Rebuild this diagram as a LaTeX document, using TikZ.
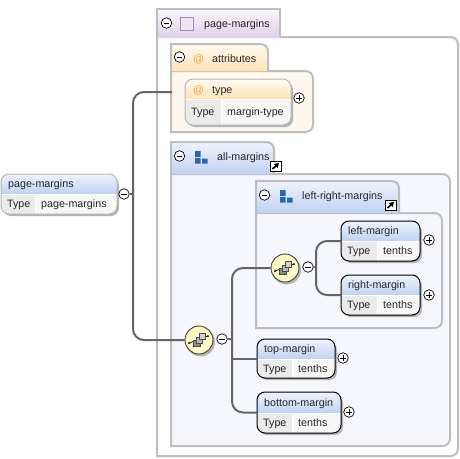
\documentclass[tikz,border=0pt]{standalone}
\usepackage{fontspec}
\setmainfont{Liberation Sans}
\usetikzlibrary{arrows.meta}
\definecolor{grpline}{HTML}{BEBEBE}
\definecolor{conncol}{HTML}{666666}
\definecolor{shadowc}{HTML}{B4B4B4}
\definecolor{bluetop}{HTML}{EFF4FD}
\definecolor{bluebot}{HTML}{BFD2F2}
\definecolor{orgtop}{HTML}{FFFBF3}
\definecolor{orgbot}{HTML}{FFE2B6}
\definecolor{purtop}{HTML}{FAF6FB}
\definecolor{purbot}{HTML}{E0D0EA}
\definecolor{purbox}{HTML}{EFE6F3}
\definecolor{purline}{HTML}{A888B8}
\definecolor{cream}{HTML}{FFF8EE}
\definecolor{pale}{HTML}{F5F7FC}
\definecolor{iconblue}{HTML}{2E66AE}
\definecolor{atcol}{HTML}{F0A830}
\definecolor{seqyel}{HTML}{FFF8B4}
\definecolor{seqin}{HTML}{FFFDE6}
\tikzset{
  x=1pt,y=-1pt,
  lab/.style={font=\fontsize{10.7}{12}\selectfont,inner sep=0pt,anchor=base west,text=black!85},
  grp/.style={draw=grpline,line width=2pt},
  conn/.style={draw=conncol,line width=2pt,rounded corners=11pt},
  straight/.style={draw=conncol,line width=2pt},
  symbc/.style={circle,draw=black,fill=white,line width=.7pt,minimum size=10.5pt,inner sep=0pt},
  frame/.style={rectangle,rounded corners=8pt,inner sep=0pt,outer sep=0pt},
  seqc/.style={circle,draw=black!75,line width=.9pt,inner color=seqin,outer color=seqyel,minimum size=28pt,inner sep=0pt},
}
% group body: sharp left corners, rounded right corners
\newcommand{\bodypath}[4]{(#1,#2) -- (#3-8,#2) .. controls (#3-3,#2) and (#3,#2+3) .. (#3,#2+8) -- (#3,#4-8) .. controls (#3,#4-3) and (#3-3,#4) .. (#3-8,#4) -- (#1,#4) -- cycle}
% group tab: x0,y0,x1,y1,top,bottom
\newcommand{\grouptab}[6]{%
  \shade[top color=#5,bottom color=#6] (#1,#4) -- (#1,#2) -- (#3-8,#2) .. controls (#3-3,#2) and (#3,#2+3) .. (#3,#2+8) -- (#3,#4) -- cycle;
  \draw[grp] (#1,#4) -- (#1,#2) -- (#3-8,#2) .. controls (#3-3,#2) and (#3,#2+3) .. (#3,#2+8) -- (#3,#4);}
\newcommand{\elembox}[9]{%
  \pgfmathsetmacro{\cxx}{(#2+#4)/2}\pgfmathsetmacro{\cyy}{(#3+#5)/2}%
  \pgfmathsetmacro{\wdd}{#4-#2}\pgfmathsetmacro{\htt}{#5-#3}%
  \fill[shadowc,rounded corners=8pt] (#2+2,#3+3) rectangle (#4+2,#5+2);
  \begin{scope}
    \clip[rounded corners=8pt] (#2,#3) rectangle (#4,#5);
    \shade[top color=\elemtop,bottom color=\elembot] (#2,#3) rectangle (#4,#6);
    \fill[black!8] (#2,#6) rectangle (#7,#5);
    \fill[black!3] (#7,#6) rectangle (#4,#5);
    \draw[white,line width=.8pt] (#2,#6) -- (#4,#6) (#7,#6) -- (#7,#5);
  \end{scope}
  \node[frame,draw=\elemline,line width=1pt,minimum width=\wdd pt,minimum height=\htt pt] (#1) at (\cxx,\cyy) {};
  \pgfmathsetmacro{\tyy}{(#3+#6)/2+3.8}\pgfmathsetmacro{\vyy}{(#6+#5)/2+3.8}%
  \node[lab] (#1-title) at (#2+7,\tyy) {#8};
  \node[lab] (#1-type) at (#2+6,\vyy) {Type};
  \node[lab] (#1-val) at (#7+6,\vyy) {#9};
}
\newcommand{\setelem}[3]{\def\elemline{#1}\def\elemtop{#2}\def\elembot{#3}}
\newcommand{\symbminus}[3]{\node[symbc] (#1) at (#2,#3) {};
  \draw[black,line width=.8pt] ([xshift=-2.6pt]#1.center) -- ([xshift=2.6pt]#1.center);}
\newcommand{\symbplus}[3]{\node[symbc] (#1) at (#2,#3) {};
  \draw[black,line width=.8pt] ([xshift=-2.6pt]#1.center) -- ([xshift=2.6pt]#1.center) ([yshift=-2.6pt]#1.center) -- ([yshift=2.6pt]#1.center);}
\newcommand{\seqicon}[3]{%
  \fill[shadowc] (#2+1.5,#3+2) circle (14.5pt);
  \node[seqc] (#1) at (#2,#3) {};
  \begin{scope}[shift={(#2,#3)}]
    \draw[black,line width=.7pt] (-10,3) -- (9,-4);
    \fill[black] (-10,3) circle (1pt) (9,-4) circle (1pt);
    \draw[black!70,fill=black!45] (-6,0) rectangle (1,6);
    \draw[black!70,fill=black!28] (-3,-3) rectangle (3,3);
    \draw[black!70,fill=black!18] (0,-7) rectangle (6,-1);
  \end{scope}}
\newcommand{\allicon}[2]{%
  \fill[iconblue] (#1,#2) rectangle +(5.5,6) (#1,#2+7) rectangle +(5.5,5.5) (#1+7,#2+7.5) rectangle +(5.5,5);}
\newcommand{\linkicon}[2]{%
  \draw[black,fill=white,line width=1pt] (#1,#2) rectangle +(11,10);
  \draw[black,line width=1.6pt,-{Triangle[length=4.5pt,width=5.5pt]}] (#1+2.5,#2+8) -- (#1+9,#2+2);}
\begin{document}
\begin{tikzpicture}
\useasboundingbox (0,0) rectangle (460,458);
\fill[white] (0,0) rectangle (460,458);

% outer group page-margins
\draw[grp,fill=white] \bodypath{157}{37}{458}{456};
\shade[top color=purtop,bottom color=purbot] (157,9) rectangle (280,37);
\draw[grp] (157,37) -- (157,9) -- (280,9) -- (280,37);
\symbminus{m-outer}{166.5}{23}
\draw[draw=purline,fill=purbox,line width=.9pt] (180.5,17) rectangle (193,30);
\node[lab] (t-outer) at (204,27) {page-margins};

% attributes group
\draw[grp,fill=cream] \bodypath{171}{71}{313}{132};
\grouptab{171}{44}{268}{71}{orgtop}{orgbot}
\symbminus{m-attr}{179.5}{57}
\node[lab,text=atcol] (at-attr) at (193,62) {@};
\node[lab] (t-attr) at (212,62) {attributes};

\setelem{black!28}{orgtop}{orgbot}
\elembox{typebox}{185}{79}{291}{125}{99}{221}{}{margin-type}
\node[lab,text=atcol] (at-type) at (193,93) {@};
\node[lab] (t-type) at (212,93) {type};
\symbplus{p-type}{299}{98}

% all-margins group
\draw[grp,fill=pale] \bodypath{171}{174}{450}{446};
\grouptab{171}{142}{274}{174}{bluetop}{bluebot}
\symbminus{m-all}{179.5}{156}
\allicon{195}{151}
\node[lab] (t-all) at (217,160) {all-margins};
\linkicon{270}{161}

% left-right group
\draw[grp,fill=pale] \bodypath{256}{213}{442}{328};
\grouptab{256}{181}{399}{213}{bluetop}{bluebot}
\symbminus{m-lr}{264.5}{195}
\allicon{280}{190}
\node[lab] (t-lr) at (302,199) {left-right-margins};
\linkicon{385}{200}

% free connector end
\coordinate (attr-in) at (172,92);

% connector nodes
\seqicon{seq-a}{199}{340}
\seqicon{seq-b}{285}{268}
\symbminus{m-a}{222}{339}
\symbminus{m-b}{308}{267}

% elements
\setelem{black!28}{bluetop}{bluebot}
\elembox{root}{1}{174}{117}{214}{194}{35}{page-margins}{page-margins}
\setelem{black}{bluetop}{bluebot}
\elembox{left}{341}{221}{420}{261}{241}{377}{left-margin}{tenths}
\elembox{right}{341}{275}{420}{315}{295}{377}{right-margin}{tenths}
\elembox{top}{257}{339}{335}{378}{359}{292}{top-margin}{tenths}
\elembox{bottom}{257}{392}{341}{433}{413}{292}{bottom-margin}{tenths}
\symbminus{m-root}{124}{194}
\symbplus{p-left}{429}{240}
\symbplus{p-right}{429}{295}
\symbplus{p-top}{343}{358}
\symbplus{p-bottom}{349}{412}

% connectors
\coordinate (tr1) at (133,194);
\coordinate (tr2) at (232,339);
\coordinate (tr3) at (316,267);
\draw[conn] (attr-in) -| (tr1) |- (seq-a.west);
\draw[straight] (m-root.east) -- (tr1);
\draw[conn] (seq-b.west) -| (tr2) |- (bottom.west);
\draw[straight] (tr2 |- top.west) -- (top.west);
\draw[straight] (m-a.east) -- (tr2);
\draw[conn] (left.west) -| (tr3) |- (right.west);
\draw[straight] (m-b.east) -- (tr3);
\end{tikzpicture}
\end{document}
